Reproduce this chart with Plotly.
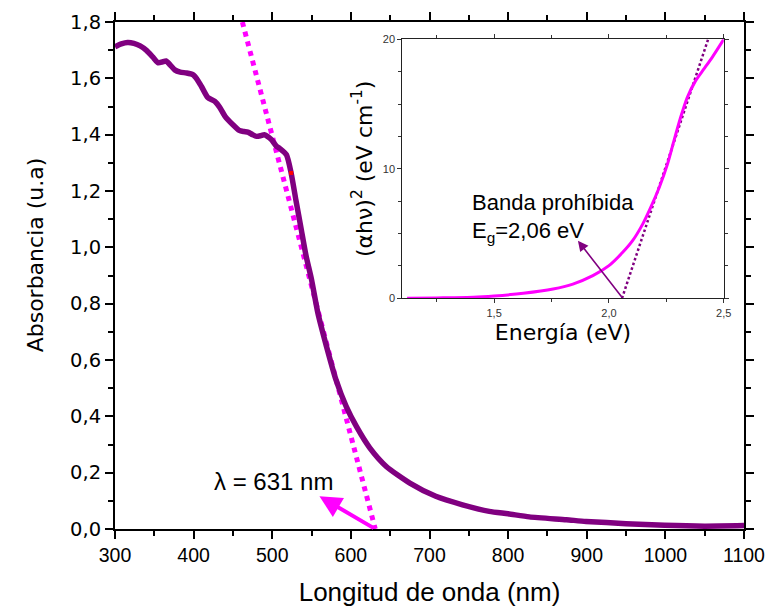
import plotly.graph_objects as go

# Main spectrum: wavelength (nm) vs absorbance
wavelength = [300, 308, 316, 324, 332, 340, 348, 355, 360, 365, 370, 376, 383, 391, 399,
              405, 410, 418, 427, 433, 440, 450, 458, 464, 469, 475, 480, 485, 490, 495,
              499, 505, 510, 518, 524, 530, 537, 543, 550, 558, 569, 581, 594, 607, 624,
              645, 675, 708, 742, 776, 800, 827, 874, 899, 950, 999, 1050, 1100]
absorbance = [1.712, 1.722, 1.727, 1.724, 1.715, 1.699, 1.676, 1.655, 1.658, 1.662, 1.648,
              1.630, 1.622, 1.619, 1.613, 1.594, 1.571, 1.532, 1.518, 1.498, 1.465, 1.435,
              1.415, 1.411, 1.409, 1.400, 1.394, 1.396, 1.400, 1.392, 1.382, 1.360, 1.350,
              1.329, 1.264, 1.169, 1.062, 0.970, 0.885, 0.767, 0.648, 0.530, 0.435, 0.364,
              0.288, 0.222, 0.163, 0.116, 0.086, 0.0625, 0.054, 0.043, 0.033, 0.027, 0.019,
              0.013, 0.010, 0.012]
red_point_x = [524]
red_point_y = [1.264]

# Tangent (edge) line in main plot
tangent_x = [462, 631]
tangent_y = [1.8, 0.0]
lambda_edge = 631

# Inset: Tauc plot
energy = [1.121, 1.25, 1.41, 1.5, 1.627, 1.757, 1.843, 1.93, 2.0, 2.06, 2.103, 2.147, 2.182,
          2.219, 2.255, 2.283, 2.312, 2.341, 2.377, 2.413, 2.449, 2.5]
tauc = [0.0, 0.03, 0.08, 0.18, 0.39, 0.72, 1.10, 1.75, 2.52, 3.55, 4.45, 5.73, 7.02, 8.56,
        10.36, 12.16, 13.96, 15.5, 16.79, 17.69, 18.59, 20.0]
fit_x = [2.057, 2.432]
fit_y = [0.0, 20.0]
eg_value = 2.06

PURPLE = "#800080"
MAGENTA = "#FF00FF"
FONT = "Liberation Sans, Arial, sans-serif"
WIDE = "DejaVu Sans, sans-serif"

fig = go.Figure()

fig.add_trace(go.Scatter(x=tangent_x, y=tangent_y, mode="lines",
                         line=dict(color=MAGENTA, width=5, dash="5px,5px"),
                         hoverinfo="skip", showlegend=False))
fig.add_trace(go.Scatter(x=wavelength, y=absorbance, mode="lines",
                         line=dict(color=PURPLE, width=5.5, shape="spline", smoothing=0.6),
                         showlegend=False))
fig.add_trace(go.Scatter(x=red_point_x, y=red_point_y, mode="markers",
                         marker=dict(color="red", size=4, symbol="square"),
                         showlegend=False))

fig.add_trace(go.Scatter(x=fit_x, y=fit_y, mode="lines", xaxis="x2", yaxis="y2",
                         line=dict(color=PURPLE, width=2.5, dash="2.5px,2.5px"),
                         showlegend=False))
fig.add_trace(go.Scatter(x=energy, y=tauc, mode="lines", xaxis="x2", yaxis="y2",
                         line=dict(color=MAGENTA, width=3, shape="spline", smoothing=0.6),
                         showlegend=False))

axis_common = dict(showline=True, linecolor="black", linewidth=2, mirror="ticks",
                   ticks="outside", ticklen=8, tickwidth=1.5, tickcolor="black",
                   showgrid=False, zeroline=False, automargin=False)

fig.update_layout(
    width=766, height=607,
    margin=dict(l=115, r=22, t=22, b=78),
    paper_bgcolor="white", plot_bgcolor="white",
    separators=", ",
    showlegend=False,
    xaxis=dict(range=[300, 1100], dtick=100, tick0=300, ticklabeloverflow="allow",
               minor=dict(dtick=50, ticks="outside", ticklen=5, tickwidth=1.5, tickcolor="black"),
               tickfont=dict(family=FONT, size=19.5, color="black"),
               title=dict(text="Longitud de onda (nm)", font=dict(family=FONT, size=26, color="black"),
                          standoff=24),
               **axis_common),
    yaxis=dict(range=[0, 1.8], dtick=0.2, tick0=0, tickformat=".1f",
               minor=dict(dtick=0.1, ticks="outside", ticklen=5, tickwidth=1.5, tickcolor="black"),
               tickfont=dict(family=WIDE, size=19.5, color="black"),
               **axis_common),
    xaxis2=dict(domain=[0.4567, 0.9678], anchor="y2", range=[1.1, 2.5], dtick=0.5, tick0=1.5,
                tickformat=".1f", automargin=False,
                minor=dict(dtick=0.25, ticks="outside", ticklen=3, tickcolor="#333"),
                showline=True, linecolor="#222", linewidth=1, mirror="ticks",
                ticks="outside", ticklen=4, tickcolor="#333",
                tickfont=dict(family=FONT, size=11, color="#333"),
                title=dict(text="Energía (eV)", font=dict(family=WIDE, size=22, color="black"),
                           standoff=7),
                showgrid=False, zeroline=False),
    yaxis2=dict(domain=[0.455, 0.9659], anchor="x2", range=[0, 20], dtick=10, automargin=False,
                minor=dict(dtick=2.5, ticks="outside", ticklen=3, tickcolor="#333"),
                showline=True, linecolor="#222", linewidth=1, mirror="ticks",
                ticks="outside", ticklen=4, tickcolor="#333",
                tickfont=dict(family=FONT, size=11, color="#333"),
                title=dict(text="(αhν)<sup>2</sup> (eV cm<sup>-1</sup>)",
                           font=dict(family=WIDE, size=22, color="black"), standoff=4),
                showgrid=False, zeroline=False),
)

annotations = [
    # main y title
    dict(text="Absorbancia (u.a)", xref="paper", yref="paper", x=-0.127, y=0.54,
         xanchor="center", yanchor="middle", textangle=-90, showarrow=False,
         font=dict(family=WIDE, size=22, color="black")),
    # lambda label
    dict(text="λ = %d nm" % lambda_edge, xref="x", yref="y", x=502, y=0.169,
         xanchor="center", yanchor="middle", showarrow=False,
         font=dict(family=FONT, size=24, color="black")),
    # magenta arrow
    dict(text="", xref="x", yref="y", x=560, y=0.116, axref="x", ayref="y",
         ax=lambda_edge, ay=0.0, showarrow=True, arrowhead=2, arrowsize=1.1,
         arrowwidth=4, arrowcolor=MAGENTA),
    # inset texts
    dict(text="Banda prohíbida", xref="x2", yref="y2", x=1.393, y=7.4,
         xanchor="left", yanchor="middle", showarrow=False,
         font=dict(family=FONT, size=22, color="black")),
    dict(text="E<sub>g</sub>=2,06 eV", xref="x2", yref="y2", x=1.393, y=5.1,
         xanchor="left", yanchor="middle", showarrow=False,
         font=dict(family=FONT, size=22, color="black")),
    dict(text="", xref="x2", yref="y2", x=1.865, y=4.45, axref="x2", ayref="y2",
         ax=eg_value, ay=0.0, showarrow=True, arrowhead=2, arrowsize=1.3,
         arrowwidth=1.6, arrowcolor=PURPLE),
]
fig.update_layout(annotations=annotations)

fig.write_html("out.html")
